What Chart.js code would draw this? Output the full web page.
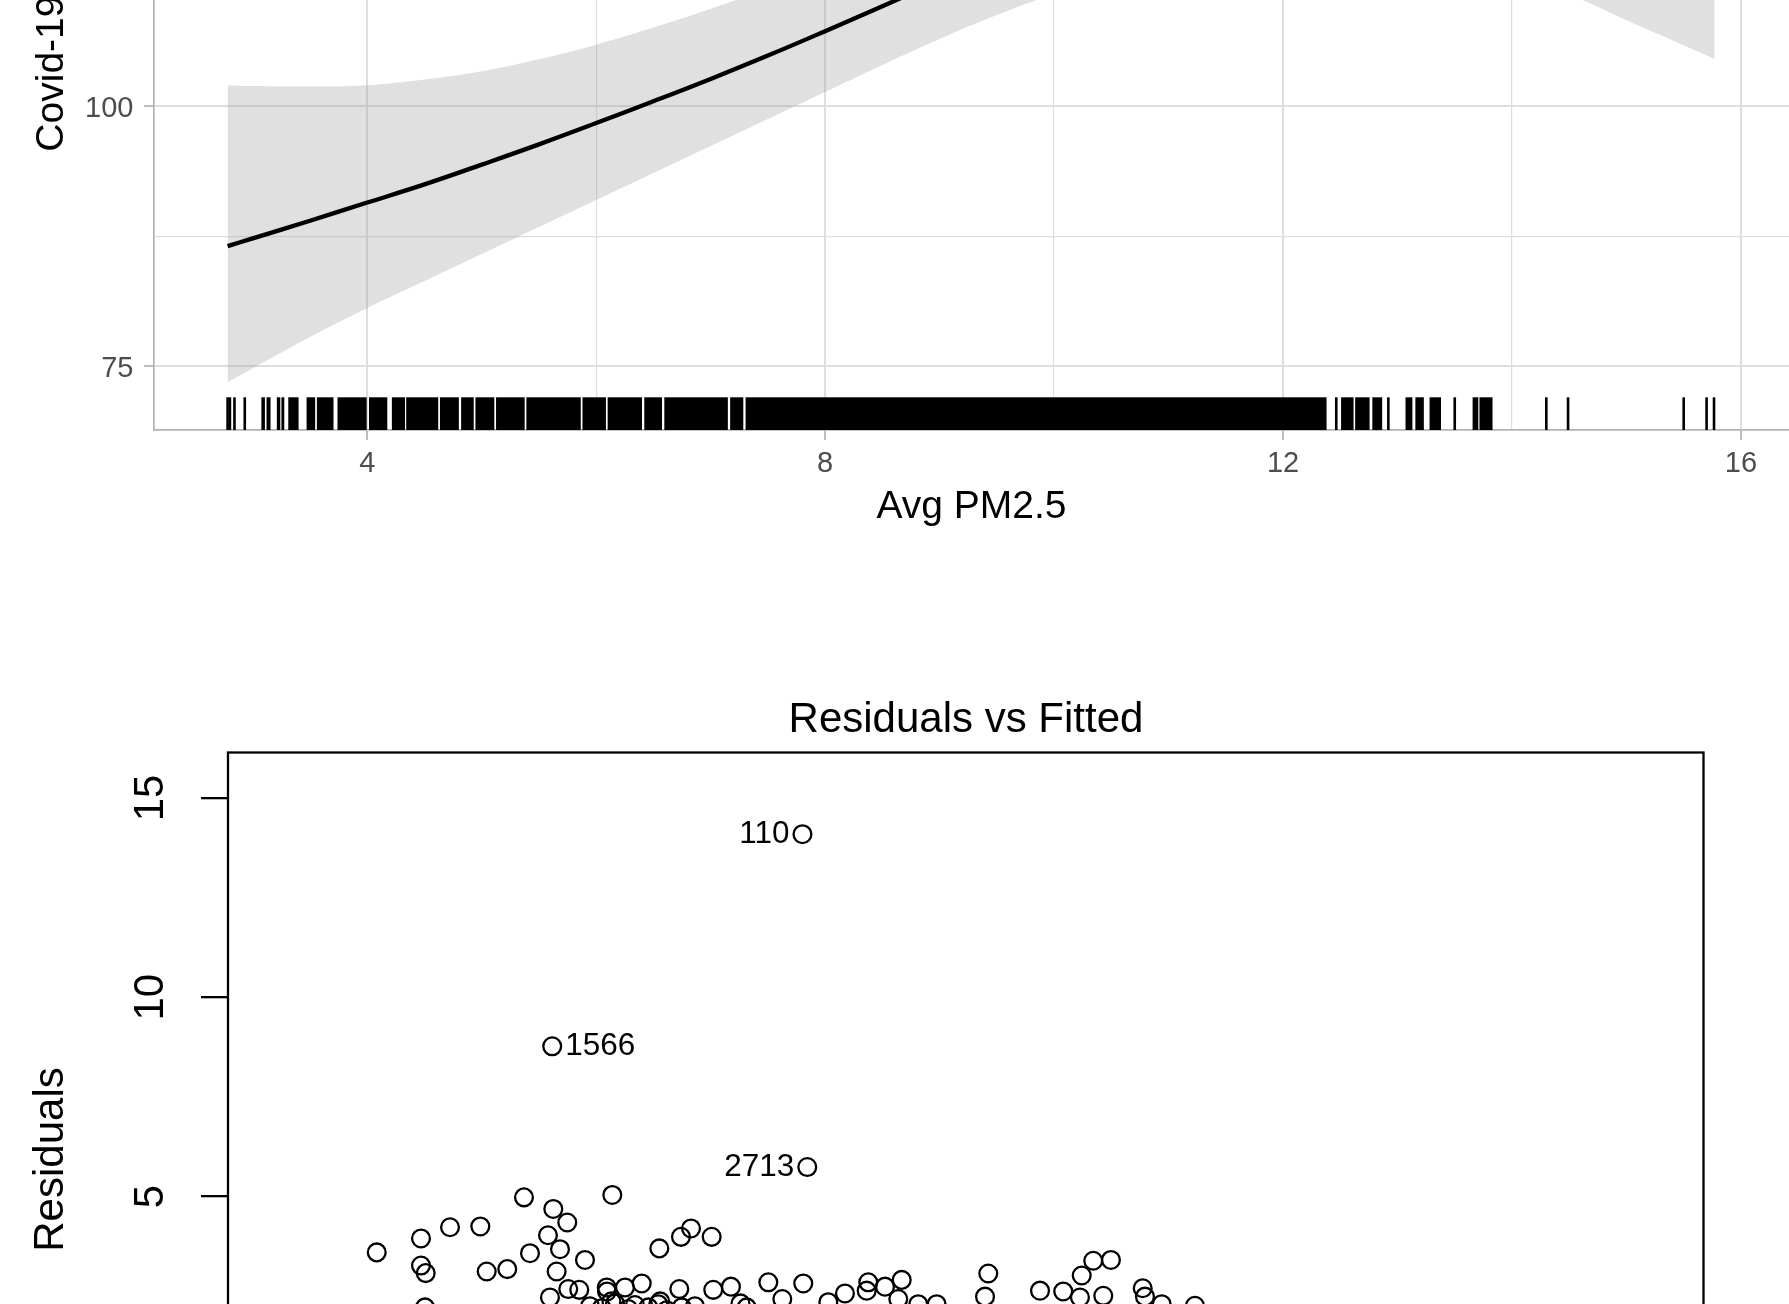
<!DOCTYPE html>
<html><head><meta charset="utf-8">
<script src="https://cdn.jsdelivr.net/npm/chart.js@4/dist/chart.umd.min.js"></script>
<style>
html,body{margin:0;padding:0;background:#fff;width:1789px;height:1304px;overflow:hidden;position:relative}
canvas{position:absolute;left:0}
#top{top:-700px}
#bottom{top:640px}
</style></head><body>
<canvas id="top" width="1800" height="1240"></canvas>
<canvas id="bottom" width="1932" height="1030"></canvas>
<script>
// ---------- Top panel: smooth effect of Avg PM2.5 ----------
const pmX    = [2.78, 3, 3.5, 4, 4.5, 5, 5.5, 6, 6.5, 7, 7.5, 8, 8.5, 9, 9.5, 10, 10.5, 11, 11.5, 12, 12.5, 13, 13.5, 14, 14.5, 15, 15.5, 15.77];
const fitY   = [86.55, 87.3, 89.0, 90.75, 92.5, 94.4, 96.35, 98.4, 100.5, 102.65, 104.9, 107.25, 109.65, 112.1, 114.5, 116.9, 119.2, 121.4, 123.6, 125.7, 127.7, 129.6, 131.4, 133.1, 134.7, 136.2, 137.6, 138.3];
const upperY = [102.03, 101.97, 101.92, 102.05, 102.6, 103.4, 104.55, 105.95, 107.6, 109.4, 111.4, 113.7, 116.1, 118.7, 121.4, 124.3, 127.4, 130.7, 134.2, 137.9, 141.8, 145.8, 149.9, 154.1, 158.3, 162.5, 166.5, 168.6];
const lowerY = [73.45, 74.8, 77.8, 80.6, 83.2, 85.8, 88.4, 91.0, 93.6, 96.2, 98.8, 101.4, 104.0, 106.5, 108.8, 110.8, 112.3, 113.4, 114.1, 114.4, 114.2, 113.7, 112.9, 111.9, 110.7, 108.3, 105.9, 104.58];
// rug: isolated ticks and solid runs of ticks (Avg PM2.5 values)
const rugTicks = [2.78, 2.80, 2.84, 2.93, 12.465, 12.92, 13.5, 14.30, 14.49, 15.50, 15.70, 15.765];
const rugSpans = [[3.075,3.106],[3.12,3.155],[3.21,3.24],[3.25,3.275],[3.31,3.40],[3.47,3.545],[3.56,3.705],[3.74,3.995],[4.015,4.175],[4.215,4.33],[4.34,4.62],[4.635,4.80],[4.82,4.93],[4.945,5.11],[5.125,5.375],[5.39,5.865],[5.88,6.085],[6.10,6.40],[6.42,6.575],[6.595,7.15],[7.17,7.285],[7.305,12.38],[12.507,12.616],[12.63,12.756],[12.78,12.866],[13.07,13.13],[13.156,13.23],[13.28,13.38],[13.656,13.706],[13.716,13.83]];
const pmXMajor = [4, 8, 12, 16];
const pmXMinor = [6, 10, 14];
const covYMajor = [75, 100, 125, 150];
const covYMinor = [87.5, 112.5, 137.5, 162.5];

// ---------- Bottom panel: Residuals vs Fitted ----------
const fittedVals = [1.512,1.962,1.962,2.010,2.257,2.565,3.009,3.307,3.449,3.253,3.375,3.070,2.630,2.839,3.341,3.629,3.907,4.385,4.605,4.707,4.917,3.273,3.459,3.571,3.850,3.853,4.036,4.206,4.588,4.933,5.113,2.003,5.493,5.848,5.635,6.103,6.272,6.509,6.493,6.679,6.849,6.814,7.017,7.204,7.729,7.696,8.255,8.491,8.679,8.796,8.976,8.661,8.898,9.299,9.322,9.492,9.830,3.680,3.799,3.934,4.069,4.137,4.273,4.374,4.460,4.612,4.747,5.210,5.273,4.394,3.898];
const residVals  = [3.60,3.95,3.27,3.08,4.23,4.25,4.98,4.69,4.35,4.03,3.68,3.58,3.12,3.18,3.12,3.41,5.04,3.70,3.99,4.20,3.99,2.47,2.68,2.66,2.72,2.62,2.72,2.82,2.68,2.66,2.74,2.22,2.85,2.82,2.43,2.35,2.57,2.85,2.64,2.74,2.91,2.43,2.30,2.30,3.07,2.49,2.64,2.62,3.02,3.39,3.41,2.47,2.51,2.70,2.49,2.30,2.26,2.25,2.20,2.32,2.18,2.28,2.22,2.30,2.15,2.22,2.25,2.32,2.22,2.37,2.37];
const idNames  = ['110', '1566', '2713'];
const idFitted = [5.840, 3.296, 5.889];
const idResid  = [14.09, 8.77, 5.74];
const residTicks = [0, 5, 10, 15];

const FONT = "'Liberation Sans', Arial, Helvetica, sans-serif";

const rugPlugin = {
  id: 'rug',
  afterDatasetsDraw(chart) {
    const {ctx, chartArea, scales} = chart;
    const x = scales.x;
    const len = chartArea.height * 0.03;
    const y0 = chartArea.bottom - len;
    ctx.save();
    ctx.fillStyle = '#000';
    rugSpans.forEach(([a, b]) => {
      const p = x.getPixelForValue(a), q = x.getPixelForValue(b);
      ctx.fillRect(p, y0, q - p, len);
    });
    rugTicks.forEach(v => {
      const p = x.getPixelForValue(v);
      ctx.fillRect(p - 1.3, y0, 2.6, len);
    });
    ctx.restore();
  }
};

const gridCol = '#dedede';
new Chart(document.getElementById('top'), {
  type: 'line',
  data: {
    datasets: [
      { label: 'fit', data: pmX.map((x, i) => ({x, y: fitY[i]})), borderColor: '#000', borderWidth: 4.3,
        pointRadius: 0, fill: false, tension: 0.4 },
      { label: 'upper', data: pmX.map((x, i) => ({x, y: upperY[i]})), borderColor: 'rgba(0,0,0,0)', borderWidth: 0,
        pointRadius: 0, fill: 2, backgroundColor: 'rgba(153,153,153,0.3)', tension: 0.4 },
      { label: 'lower', data: pmX.map((x, i) => ({x, y: lowerY[i]})), borderColor: 'rgba(0,0,0,0)', borderWidth: 0,
        pointRadius: 0, fill: false, tension: 0.4 }
    ]
  },
  options: {
    responsive: false, animation: false, events: [],
    layout: {padding: {top: 40, right: 11, bottom: 0, left: 0}},
    plugins: {legend: {display: false}, tooltip: {enabled: false}},
    scales: {
      x: {
        type: 'linear', min: 2.137, max: 16.42,
        afterBuildTicks: s => { s.ticks = [...pmXMajor, ...pmXMinor].sort((a, b) => a - b).map(v => ({value: v})); },
        afterFit: s => { s.height = 110; },
        grid: {
          color: gridCol,
          lineWidth: c => pmXMajor.includes(c.tick && c.tick.value) ? 2 : 1.2,
          tickLength: 10,
          tickColor: c => pmXMajor.includes(c.tick && c.tick.value) ? '#b3b3b3' : 'rgba(0,0,0,0)',
          tickWidth: 1.7
        },
        border: {display: true, color: '#b3b3b3', width: 1.7},
        ticks: {autoSkip: false, maxRotation: 0, minRotation: 0, padding: 7, color: '#4d4d4d',
          font: {family: FONT, size: 29}, callback: v => pmXMajor.includes(v) ? String(v) : ''},
        title: {display: true, text: 'Avg PM2.5', color: '#000', font: {family: FONT, size: 39},
          padding: {top: 0, bottom: 9}}
      },
      y: {
        type: 'linear', min: 68.85, max: 173.8,
        afterBuildTicks: s => { s.ticks = [...covYMajor, ...covYMinor].sort((a, b) => a - b).map(v => ({value: v})); },
        afterFit: s => { s.width = 154; },
        grid: {
          color: gridCol,
          lineWidth: c => covYMajor.includes(c.tick && c.tick.value) ? 2 : 1.2,
          tickLength: 10,
          tickColor: c => covYMajor.includes(c.tick && c.tick.value) ? '#b3b3b3' : 'rgba(0,0,0,0)',
          tickWidth: 1.7
        },
        border: {display: true, color: '#b3b3b3', width: 1.7},
        ticks: {autoSkip: false, padding: 10.5, labelOffset: 2.5, color: '#4d4d4d', font: {family: FONT, size: 29},
          callback: v => covYMajor.includes(v) ? String(v) : ''},
        title: {display: true, text: 'Covid-19 Mortality per 100,000', color: '#000',
          font: {family: FONT, size: 39}, padding: {top: 28.6, bottom: 0}}
      }
    }
  },
  plugins: [rugPlugin]
});

// ---------- bottom chart plugins ----------
const boxPlugin = {
  id: 'rbox',
  afterDraw(chart) {
    const {ctx, chartArea: a} = chart;
    ctx.save();
    ctx.strokeStyle = '#000';
    ctx.lineWidth = 2.3;
    ctx.strokeRect(a.left, a.top, a.right - a.left, a.bottom - a.top);
    ctx.restore();
  }
};
const yRotLabels = {
  id: 'yRotLabels',
  afterDraw(chart) {
    const s = chart.scales.y, ctx = chart.ctx;
    ctx.save();
    ctx.fillStyle = '#000';
    ctx.font = '42px ' + FONT;
    ctx.textAlign = 'center';
    ctx.textBaseline = 'middle';
    residTicks.forEach(v => {
      const y = s.getPixelForValue(v);
      ctx.save();
      ctx.translate(s.right - 77, y);
      ctx.rotate(-Math.PI / 2);
      ctx.fillText(String(v), 0, 0);
      ctx.restore();
    });
    ctx.restore();
  }
};
const idLabels = {
  id: 'idLabels',
  afterDatasetsDraw(chart) {
    const ctx = chart.ctx, meta = chart.getDatasetMeta(1);
    const mid = (Math.min(...idFitted) + Math.max(...idFitted)) / 2;
    ctx.save();
    ctx.fillStyle = '#000';
    ctx.font = '31.5px ' + FONT;
    ctx.textBaseline = 'middle';
    meta.data.forEach((pt, i) => {
      const leftSide = idFitted[i] > mid;
      ctx.textAlign = leftSide ? 'right' : 'left';
      ctx.fillText(idNames[i], pt.x + (leftSide ? -13 : 13), pt.y);
    });
    ctx.restore();
  }
};

const ptStyle = {pointRadius: 8.9, borderWidth: 2.3, borderColor: '#000', backgroundColor: 'rgba(0,0,0,0)', pointStyle: 'circle'};
new Chart(document.getElementById('bottom'), {
  type: 'scatter',
  data: {
    datasets: [
      Object.assign({label: 'obs', data: fittedVals.map((x, i) => ({x, y: residVals[i]}))}, ptStyle),
      Object.assign({label: 'id', data: idFitted.map((x, i) => ({x, y: idResid[i]}))}, ptStyle)
    ]
  },
  options: {
    responsive: false, animation: false, events: [],
    layout: {padding: {top: 0, right: 0, bottom: 103.5, left: 0}},
    plugins: {
      legend: {display: false}, tooltip: {enabled: false},
      title: {display: true, text: 'Residuals vs Fitted', color: '#000',
        font: {family: FONT, size: 42, weight: 'normal'}, padding: {top: 55, bottom: 7.1}}
    },
    scales: {
      x: {type: 'linear', display: false, min: 0, max: 15},
      y: {
        type: 'linear', position: 'left', min: -4.28, max: 16.14,
        afterBuildTicks: s => { s.ticks = residTicks.map(v => ({value: v})); },
        afterFit: s => { s.width = 228; },
        grid: {drawOnChartArea: false, drawTicks: true, tickLength: 27, tickColor: '#000', tickWidth: 2.3, color: '#000', lineWidth: 2.3},
        border: {display: false},
        ticks: {display: false},
        title: {display: true, text: 'Residuals', color: '#000', font: {family: FONT, size: 42}, padding: {top: 25.8, bottom: 0}}
      },
      y2: {
        type: 'linear', position: 'right', min: -4.28, max: 16.14,
        afterFit: s => { s.width = 228.5; },
        grid: {display: false}, border: {display: false}, ticks: {display: false}
      }
    }
  },
  plugins: [boxPlugin, yRotLabels, idLabels]
});
</script></body></html>
